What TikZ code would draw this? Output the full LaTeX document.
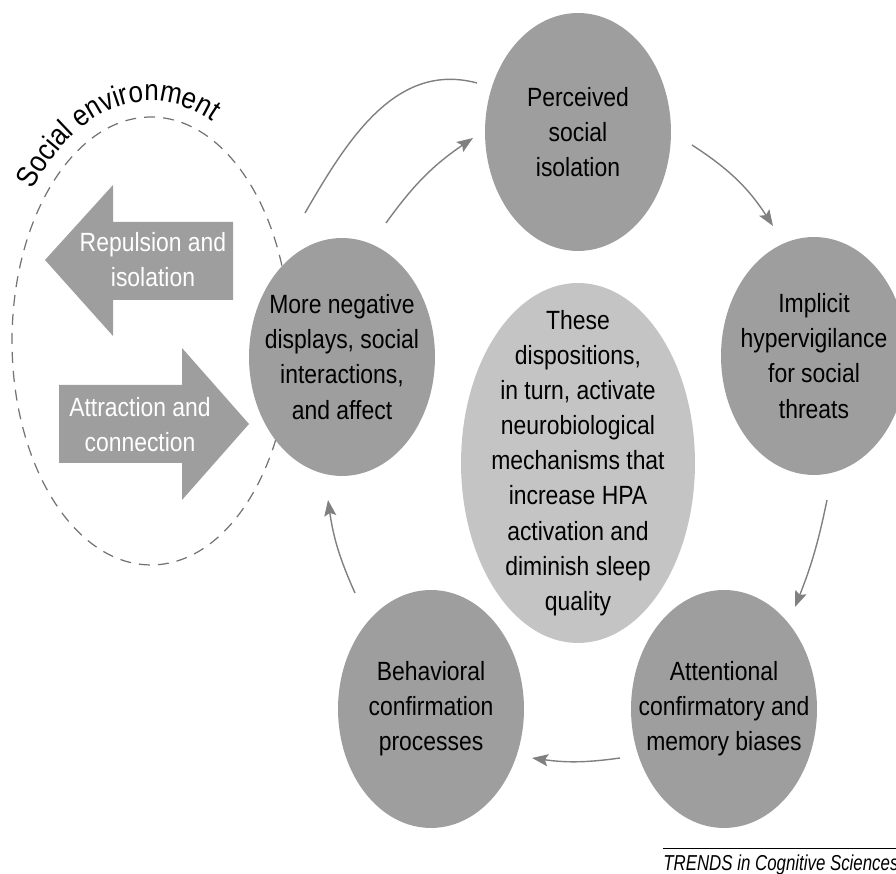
\documentclass[tikz,border=0pt]{standalone}
\usepackage{fontspec}
\setmainfont{Liberation Sans}[FakeStretch=0.87]
\newfontfamily\trendsfont{Liberation Sans}[FakeStretch=0.78]
\usetikzlibrary{shapes.geometric, arrows.meta, decorations.text, calc}
\definecolor{bubblegrey}{RGB}{158,158,158}
\definecolor{coregrey}{RGB}{196,196,196}
\definecolor{linkgrey}{RGB}{128,128,128}
\definecolor{dashgrey}{RGB}{115,115,115}

\begin{document}
\begin{tikzpicture}[
        x=0.02cm, y=0.02cm,
        bubble/.style={ellipse, fill=bubblegrey, inner sep=0pt, minimum width=3.72cm, minimum height=4.76cm},
        core/.style={ellipse, fill=coregrey, inner sep=0pt, minimum width=4.68cm, minimum height=7.2cm},
        bubbletext/.style={align=center, text=black, font=\fontsize{15}{20}\selectfont},
        arrowtext/.style={align=center, text=white, font=\fontsize{15}{20}\selectfont},
        blockarrow/.style={fill=bubblegrey},
        link/.style={-{Stealth[length=0.32cm, width=0.24cm, inset=0.06cm]}, linkgrey, line width=0.8pt},
        ring/.style={dashgrey, line width=0.7pt, dash pattern=on 0.22cm off 0.16cm}
    ]
        \useasboundingbox (0,0) rectangle (896,874);

        % Social environment
        \draw[ring] (151,533) ellipse [x radius=2.78cm, y radius=4.48cm];
        \path[decorate, decoration={text along path, text={|\fontsize{17}{20}\selectfont|Social environment}}]
            (32.9,684) arc [start angle=141, end angle=45, x radius=3.04cm, y radius=4.8cm];

        % Block arrows
        \fill[blockarrow] (45,614) -- (113,689) -- (113,652) -- (233,652) -- (233,574) -- (113,574) -- (113,538) -- cycle;
        \fill[blockarrow] (59,489) -- (182,489) -- (182,526) -- (249,450) -- (182,374) -- (182,411) -- (59,411) -- cycle;
        \node[arrowtext] (repulsion) at (153,614) {Repulsion and\\isolation};
        \node[arrowtext] (attraction) at (140,449) {Attraction and\\connection};

        % States
        \node[bubble, label={[bubbletext]center:{Perceived\\social\\isolation}}] (perceived) at (578,742) {};
        \node[bubble, label={[bubbletext]center:{Implicit\\hypervigilance\\for social\\threats}}] (implicit) at (814,518) {};
        \node[bubble, label={[bubbletext]center:{Attentional\\confirmatory and\\memory biases}}] (attentional) at (724,165) {};
        \node[bubble, label={[bubbletext]center:{Behavioral\\confirmation\\processes}}] (behavioral) at (431,165) {};
        \node[bubble, label={[bubbletext]center:{More negative\\displays, social\\interactions,\\and affect}}] (negative) at (342,517) {};
        \node[core, label={[bubbletext]center:{These\\dispositions,\\in turn, activate\\neurobiological\\mechanisms that\\increase HPA\\activation and\\diminish sleep\\quality}}] (central) at (578,411) {};

        % Transitions
        \draw[linkgrey, line width=0.8pt] ($(negative)+(-37,144)$) to[out=60, in=165] ($(perceived)+(-101,49)$);
        \draw[link] ($(negative)+(44,134)$) to[bend left=10] ($(perceived)+(-105,-6)$);
        \draw[link] ($(perceived)+(114,-13)$) to[bend left=12] ($(implicit)+(-41,130)$);
        \draw[link] ($(implicit)+(13,-144)$) to[bend left=5] ($(attentional)+(71,102)$);
        \draw[link] ($(attentional)+(-104,-49)$) to[bend left=8] ($(behavioral)+(101,-49)$);
        \draw[link] ($(behavioral)+(-76,116)$) to[bend left=8] ($(negative)+(-14,-143)$);

        % Source
        \draw[line width=0.5pt] (663,26) -- (896,26);
        \node[anchor=base west, inner sep=0pt, font=\trendsfont\itshape\fontsize{12.3}{14}\selectfont] (trends) at (663,3) {TRENDS in Cognitive Sciences};
    \end{tikzpicture}
\end{document}
